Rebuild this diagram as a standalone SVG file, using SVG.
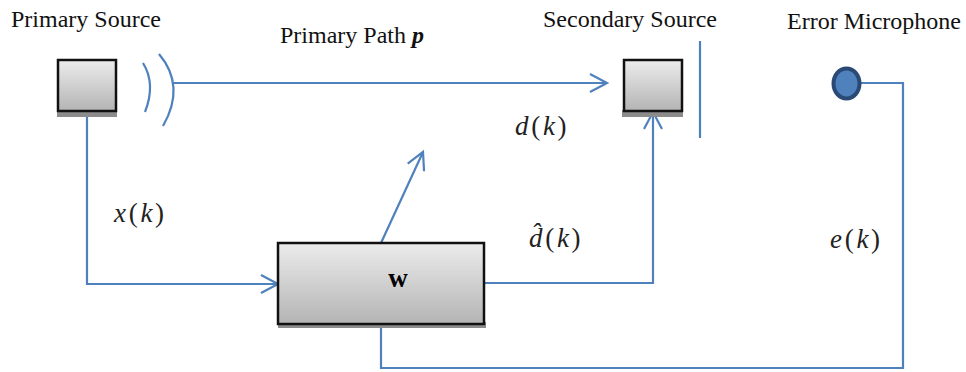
<svg xmlns="http://www.w3.org/2000/svg" width="966" height="372" viewBox="0 0 966 372">
<style>
.t{font-family:"Liberation Serif",serif;font-size:24px;fill:#111}
.m{font-family:"Liberation Serif",serif;font-style:italic;font-size:27px;fill:#222;letter-spacing:2.7px}
.u{font-style:normal}
.c{fill:none;stroke:#4f81bd;stroke-width:2.2}
.b{fill:url(#g);stroke:#111;stroke-width:2.5}
.s{fill:#8c8c8c}
</style>
<defs>
<linearGradient id="g" x1="0" y1="0" x2="0" y2="1"><stop offset="0" stop-color="#ececec"/><stop offset="1" stop-color="#b4b4b4"/></linearGradient>
<marker id="a" markerUnits="userSpaceOnUse" markerWidth="22" markerHeight="22" refX="18" refY="10" orient="auto"><path d="M1 1L18 10L1 19" fill="none" stroke="#4f81bd" stroke-width="2.2"/></marker>
</defs>
<rect width="966" height="372" fill="#fff"/>
<g id="connectors">
<path class="c" d="M173 83H607" marker-end="url(#a)"/>
<path class="c" d="M87 111V284H278" marker-end="url(#a)"/>
<path class="c" d="M381 243L423 152" marker-end="url(#a)"/>
<path class="c" d="M483 283H653V112" marker-end="url(#a)"/>
<path class="c" d="M381 324V368H903V83H860"/>
</g>
<g id="primary-source"><rect class="s" x="57" y="110" width="60" height="7"/><rect class="b" x="58" y="60" width="58" height="51"/><text class="t" x="11" y="27">Primary Source</text></g>
<g id="waves"><path class="c" d="M143 63Q156 84 145 112"/><path class="c" d="M159 54Q186 86 163 126"/></g>
<g id="primary-path"><text class="t" x="280" y="43">Primary Path <tspan font-weight="bold" font-style="italic">p</tspan></text></g>
<g id="secondary-source"><rect class="s" x="622" y="110" width="61" height="7"/><rect class="b" x="624" y="60" width="58" height="51"/><path class="c" d="M700 41V138"/><text class="t" x="543" y="27">Secondary Source</text></g>
<g id="error-microphone"><ellipse cx="846.500" cy="83.500" rx="13" ry="15" fill="#4f81bd" stroke="#2a4a75" stroke-width="4"/><text class="t" x="787" y="29">Error Microphone</text></g>
<g id="filter"><rect class="s" x="278" y="322" width="208" height="6"/><rect class="b" x="278" y="243" width="206" height="81"/><text x="398" y="287" text-anchor="middle" font-family="Liberation Serif,serif" font-weight="bold" font-size="27" fill="#000">w</text></g>
<g id="labels">
<text class="m" x="515" y="135">d<tspan class="u">(</tspan>k<tspan class="u">)</tspan></text>
<text class="m" x="114" y="222">x<tspan class="u">(</tspan>k<tspan class="u">)</tspan></text>
<text class="m" x="529" y="247">d̂<tspan class="u">(</tspan>k<tspan class="u">)</tspan></text>
<text class="m" x="830" y="248">e<tspan class="u">(</tspan>k<tspan class="u">)</tspan></text>
</g>
</svg>
